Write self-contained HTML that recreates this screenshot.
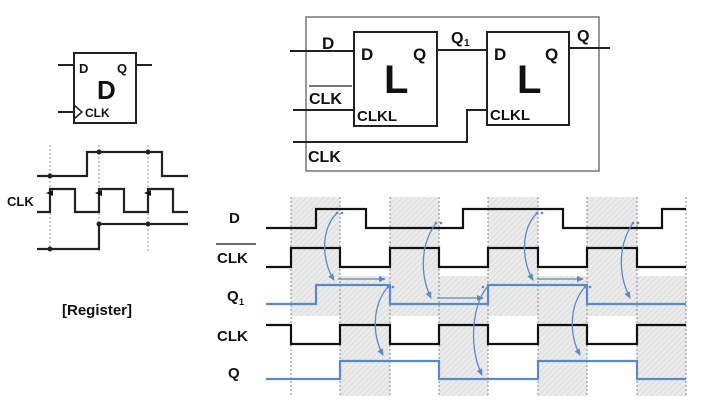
<!DOCTYPE html>
<html><head><meta charset="utf-8"><style>
html,body{margin:0;padding:0;background:#fff;}
svg{display:block;}
text{font-family:"Liberation Sans",Arial,sans-serif;font-weight:bold;fill:#111;}
</style></head><body>
<svg width="727" height="406" viewBox="0 0 727 406" xmlns="http://www.w3.org/2000/svg">
<defs>
<pattern id="h" width="4" height="4" patternUnits="userSpaceOnUse" patternTransform="rotate(45)">
<rect width="4" height="4" fill="#ebebeb"/><line x1="0" y1="0" x2="0" y2="4" stroke="#d8d8d8" stroke-width="1.5"/>
</pattern>
<marker id="a" markerWidth="8" markerHeight="8" refX="6" refY="4" orient="auto" markerUnits="userSpaceOnUse">
<path d="M0,1 L7,4 L0,7 z" fill="#5a8ac6"/></marker>
<marker id="k" markerWidth="8" markerHeight="8" refX="4" refY="4" orient="auto" markerUnits="userSpaceOnUse">
<path d="M1,7 L4,0 L7,7 z" fill="#111"/></marker>
</defs>

<rect x="74" y="53" width="62" height="70" fill="#fff" stroke="#222" stroke-width="2"/>
<line x1="58" y1="65" x2="74" y2="65" stroke="#222" stroke-width="2"/>
<line x1="136" y1="65" x2="152" y2="65" stroke="#222" stroke-width="2"/>
<line x1="58" y1="112" x2="74" y2="112" stroke="#222" stroke-width="2"/>
<path d="M74,105 L82,112 L74,119" fill="none" stroke="#222" stroke-width="1.5"/>
<text x="79" y="73" font-size="13">D</text>
<text x="117" y="73" font-size="13">Q</text>
<text x="97" y="99" font-size="26">D</text>
<text x="85" y="117" font-size="12">CLK</text>

<g stroke="#999" stroke-width="1" stroke-dasharray="2,2">
<line x1="50" y1="145" x2="50" y2="253"/><line x1="99" y1="145" x2="99" y2="253"/><line x1="148" y1="145" x2="148" y2="253"/>
</g>
<g fill="none" stroke="#222" stroke-width="2.2">
<polyline points="37,176 87,176 87,152 162,152 162,176 188,176"/>
<polyline points="37,212 50,212 50,189 75,189 75,212 99,212 99,189 124,189 124,212 148,212 148,189 173,189 173,212 188,212"/>
<polyline points="37,249 99,249 99,224 188,224"/>
</g>
<g stroke="#222" stroke-width="1.5">
<line x1="50" y1="210" x2="50" y2="193" marker-end="url(#k)"/>
<line x1="99" y1="210" x2="99" y2="193" marker-end="url(#k)"/>
<line x1="148" y1="210" x2="148" y2="193" marker-end="url(#k)"/>
</g>
<g fill="#222">
<circle cx="50" cy="176" r="2.5"/><circle cx="99" cy="152" r="2.5"/><circle cx="148" cy="152" r="2.5"/>
<circle cx="50" cy="249" r="2.5"/><circle cx="99" cy="224" r="2.5"/><circle cx="148" cy="224" r="2.5"/>
</g>
<text x="7" y="206" font-size="13">CLK</text>
<text x="62" y="315" font-size="15">[Register]</text>

<rect x="306" y="17" width="293" height="154" fill="#fff" stroke="#777" stroke-width="1.5"/>
<rect x="354" y="32" width="83" height="94" fill="#fff" stroke="#222" stroke-width="2"/>
<rect x="487" y="32" width="82" height="93" fill="#fff" stroke="#222" stroke-width="2"/>
<g stroke="#222" stroke-width="2" fill="none">
<line x1="290" y1="51" x2="354" y2="51"/>
<line x1="437" y1="50" x2="487" y2="50"/>
<line x1="569" y1="48" x2="610" y2="48"/>
<line x1="293" y1="110" x2="354" y2="110"/>
<polyline points="293,142 467,142 467,110 487,110"/>
</g>
<text x="322" y="49" font-size="17">D</text>
<line x1="309" y1="86" x2="352" y2="86" stroke="#222" stroke-width="1.2"/>
<text x="309" y="104" font-size="16">CLK</text>
<text x="308" y="162" font-size="16">CLK</text>
<text x="451" y="43" font-size="16">Q</text><text x="464" y="46" font-size="10">1</text>
<text x="577" y="41" font-size="16">Q</text>
<text x="361" y="60" font-size="17">D</text><text x="413" y="60" font-size="17">Q</text>
<text x="384" y="93" font-size="40">L</text>
<text x="357" y="121" font-size="15">CLKL</text>
<text x="494" y="60" font-size="17">D</text><text x="545" y="60" font-size="17">Q</text>
<text x="517" y="93" font-size="40">L</text>
<text x="490" y="120" font-size="15">CLKL</text>

<g fill="url(#h)">
<rect x="291" y="197" width="49" height="119"/><rect x="390" y="197" width="49" height="119"/>
<rect x="488" y="197" width="50" height="119"/><rect x="587" y="197" width="50" height="119"/>
<rect x="340" y="276" width="50" height="120"/><rect x="439" y="276" width="49" height="120"/>
<rect x="538" y="276" width="49" height="120"/><rect x="637" y="276" width="49" height="120"/>
<rect x="291" y="276" width="395" height="40"/>
</g>
<g stroke="#888" stroke-width="1" stroke-dasharray="2,2">
<line x1="291" y1="197" x2="291" y2="396"/><line x1="340" y1="197" x2="340" y2="396"/>
<line x1="390" y1="197" x2="390" y2="396"/><line x1="439" y1="197" x2="439" y2="396"/>
<line x1="488" y1="197" x2="488" y2="396"/><line x1="538" y1="197" x2="538" y2="396"/>
<line x1="587" y1="197" x2="587" y2="396"/><line x1="637" y1="197" x2="637" y2="396"/>
<line x1="686" y1="197" x2="686" y2="396"/>
</g>
<g fill="none" stroke="#111" stroke-width="2.2">
<polyline points="266,228 316,228 316,209 366,209 366,228 463,228 463,209 563,209 563,228 662,228 662,209 686,209"/>
<polyline points="266,267 291,267 291,248 340,248 340,267 390,267 390,248 439,248 439,267 488,267 488,248 538,248 538,267 587,267 587,248 637,248 637,267 686,267"/>
<polyline points="266,325 291,325 291,344 340,344 340,325 390,325 390,344 439,344 439,325 488,325 488,344 538,344 538,325 587,325 587,344 637,344 637,325 686,325"/>
</g>
<g fill="none" stroke="#5a8ac6" stroke-width="2.2">
<polyline points="266,304 316,304 316,285 390,285 390,304 488,304 488,285 587,285 587,304 686,304"/>
<polyline points="266,379 340,379 340,361 439,361 439,379 538,379 538,361 637,361 637,379 686,379"/>
</g>
<text x="229" y="223" font-size="15">D</text>
<line x1="216" y1="244" x2="256" y2="244" stroke="#111" stroke-width="1.2"/>
<text x="217" y="263" font-size="15">CLK</text>
<text x="227" y="301" font-size="15">Q</text><text x="239" y="305" font-size="9">1</text>
<text x="217" y="341" font-size="15">CLK</text>
<text x="228" y="378" font-size="15">Q</text>

<g fill="none" stroke="#5a8ac6" stroke-width="1.3" marker-end="url(#a)">
<path d="M337,213 C320,230 322,262 334,280"/>
<path d="M436,223 C420,245 420,275 431,298"/>
<path d="M537,213 C520,230 522,262 533,280"/>
<path d="M633,223 C618,245 618,275 630,298"/>
<path d="M388,287 C372,305 372,335 383,355"/>
<path d="M487,287 C470,310 470,350 482,375"/>
<path d="M585,287 C569,305 569,335 580,355"/>
<line x1="338" y1="279" x2="385" y2="279"/>
<line x1="437" y1="298" x2="483" y2="298"/>
<line x1="537" y1="279" x2="583" y2="279"/>
</g>
<g fill="#5a8ac6">
<circle cx="337" cy="213" r="1.3"/><circle cx="342" cy="213" r="1.3"/>
<circle cx="436" cy="223" r="1.3"/><circle cx="441" cy="223" r="1.3"/>
<circle cx="537" cy="213" r="1.3"/><circle cx="542" cy="213" r="1.3"/>
<circle cx="633" cy="223" r="1.3"/><circle cx="638" cy="223" r="1.3"/>
<circle cx="388" cy="287" r="1.3"/><circle cx="393" cy="287" r="1.3"/>
<circle cx="483" cy="287" r="1.3"/><circle cx="488" cy="287" r="1.3"/>
<circle cx="585" cy="287" r="1.3"/><circle cx="590" cy="287" r="1.3"/>
</g>
</svg>
</body></html>
